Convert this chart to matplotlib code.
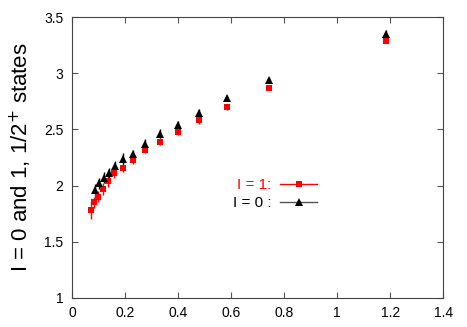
import matplotlib
matplotlib.use('Agg')
from matplotlib import pyplot as plt
from matplotlib.lines import Line2D

plt.rcParams['font.family'] = ['Liberation Sans', 'DejaVu Sans']

# I = 1 (red squares)
x_i1 = [0.072, 0.084, 0.099, 0.118, 0.137, 0.160, 0.192, 0.229, 0.275, 0.332,
        0.401, 0.480, 0.584, 0.743, 1.185]
y_i1 = [1.78, 1.85, 1.90, 1.97, 2.04, 2.11, 2.16, 2.23, 2.32, 2.39,
        2.48, 2.58, 2.70, 2.87, 3.29]
e_i1 = [0.08, 0.05, 0.05, 0.05, 0.05, 0.04, 0.04, 0.04, 0.03, 0.03,
        0.03, 0.03, 0.03, 0.02, 0.02]

# I = 0 (black triangles)
x_i0 = [0.087, 0.102, 0.121, 0.140, 0.162, 0.194, 0.229, 0.275, 0.332,
        0.401, 0.480, 0.584, 0.743, 1.185]
y_i0 = [1.96, 2.02, 2.07, 2.11, 2.17, 2.24, 2.28, 2.37, 2.46,
        2.54, 2.65, 2.78, 2.94, 3.35]
e_i0 = [0.05, 0.05, 0.05, 0.05, 0.05, 0.05, 0.04, 0.04, 0.04,
        0.03, 0.03, 0.03, 0.03, 0.03]

fig = plt.figure(figsize=(4.67, 3.27), dpi=100)
ax = fig.add_axes([0.154, 0.089, 0.795, 0.859])

ax.errorbar(x_i1, y_i1, yerr=e_i1, fmt='s', color='red', ms=5,
            capsize=2, elinewidth=1, mew=0)
ax.errorbar(x_i0, y_i0, yerr=e_i0, fmt='^', color='black', ms=6,
            capsize=2, elinewidth=1, mew=0)

ax.set_xlim(0, 1.4)
ax.set_ylim(1, 3.5)
ax.set_xticks([0, 0.2, 0.4, 0.6, 0.8, 1, 1.2, 1.4])
ax.set_xticklabels(['0', '0.2', '0.4', '0.6', '0.8', '1', '1.2', '1.4'])
ax.set_yticks([1, 1.5, 2, 2.5, 3, 3.5])
ax.set_yticklabels(['1', '1.5', '2', '2.5', '3', '3.5'])
ax.tick_params(direction='in', top=True, right=True, labelsize=10,
               length=4, color='#555555', pad=6)
for s in ax.spines.values():
    s.set_color('#444444')

ax.set_ylabel('I = 0 and 1, 1/2$^{+}$ states', fontsize=16, labelpad=7)

handles = [
    Line2D([], [], color='red', marker='s', ms=5, mew=0, lw=1),
    Line2D([], [], color='#555555', marker='^', ms=6, mew=0, mfc='black', lw=1),
]
leg = ax.legend(handles, ['I = 1:', 'I = 0 :'], loc='center',
                bbox_to_anchor=(0.547, 0.37), frameon=False, markerfirst=False,
                fontsize=11, handlelength=2.4, handletextpad=0.6,
                labelspacing=0.25, labelcolor=['red', 'black'])

fig.savefig('out.png', dpi=100)
